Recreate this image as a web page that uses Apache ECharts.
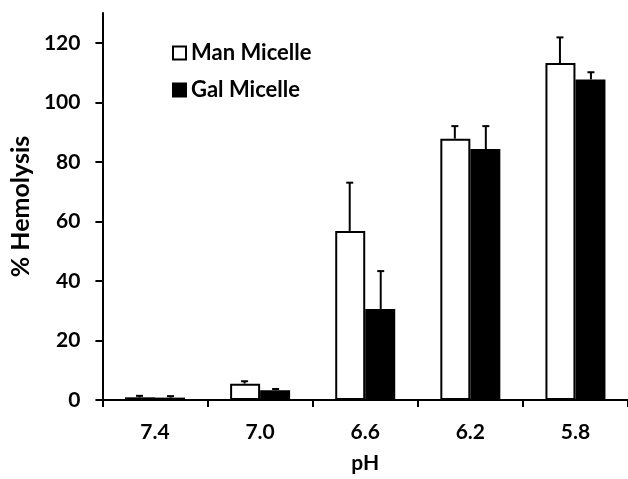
<!DOCTYPE html>
<html>
<head>
<meta charset="utf-8">
<script src="https://cdn.jsdelivr.net/npm/echarts@6/dist/echarts.min.js"></script>
<style>html,body{margin:0;padding:0;background:#fff}#c{width:628px;height:479px}</style>
</head>
<body>
<div id="c"></div>
<script>
const categories = ['7.4', '7.0', '6.6', '6.2', '5.8'];
const manValues = [0.9, 5.5, 56.8, 87.8, 113.2];
const manErrTop = [1.4, 6.3, 73.0, 92.0, 121.8];
const galValues = [0.8, 3.3, 30.6, 84.3, 107.7];
const galErrTop = [1.3, 3.7, 43.3, 92.0, 110.1];
const yTicks = [0, 20, 40, 60, 80, 100, 120];

const FONT = 'Lato';
const chart = echarts.init(document.getElementById('c'), null, {renderer: 'canvas'});

function errSeries(name, vals, tops, dir) {
  return {
    type: 'custom',
    name: name + ' err',
    z: 5,
    silent: true,
    data: vals.map((v, i) => [i, v, tops[i]]),
    renderItem: function (params, api) {
      const b = api.coord([api.value(0), api.value(1)]);
      const t = api.coord([api.value(0), api.value(2)]);
      const x = b[0] + dir * 15.5;
      const st = {stroke: '#000', lineWidth: 2};
      return {
        type: 'group',
        children: [
          {type: 'line', shape: {x1: x, y1: b[1], x2: x, y2: t[1]}, style: st},
          {type: 'line', shape: {x1: x - 3.5, y1: t[1], x2: x + 3.5, y2: t[1]}, style: st}
        ]
      };
    }
  };
}

chart.setOption({
  animation: false,
  backgroundColor: '#fff',
  grid: {left: 93, top: 13, width: 540, height: 393, containLabel: false},
  legend: {
    orient: 'vertical',
    left: 167,
    top: 37,
    itemWidth: 13,
    itemHeight: 13,
    itemGap: 15,
    icon: 'rect',
    data: ['Man Micelle', 'Gal Micelle'],
    textStyle: {fontFamily: FONT, fontWeight: 'bold', fontSize: 22, color: '#000'}
  },
  xAxis: {
    type: 'category',
    data: categories,
    name: 'pH',
    nameLocation: 'middle',
    nameGap: 53,
    nameTextStyle: {fontFamily: FONT, fontWeight: 'bold', fontSize: 21, color: '#000', verticalAlign: 'top'},
    axisLine: {lineStyle: {color: '#000', width: 2}},
    axisTick: {show: true, length: 7, lineStyle: {color: '#000', width: 2}, alignWithLabel: false},
    axisLabel: {fontFamily: FONT, fontWeight: 'bold', fontSize: 21, color: '#000', margin: 22},
    splitLine: {show: false}
  },
  yAxis: {
    type: 'value',
    min: 0,
    max: 130,
    interval: 20,
    name: '% Hemolysis',
    nameLocation: 'middle',
    nameRotate: 90,
    nameGap: 60,
    nameTextStyle: {fontFamily: FONT, fontWeight: 'bold', fontSize: 25, color: '#000'},
    axisLine: {show: true, lineStyle: {color: '#000', width: 2}},
    axisTick: {show: true, length: 7, lineStyle: {color: '#000', width: 2}, customValues: yTicks},
    axisLabel: {fontFamily: FONT, fontWeight: 'bold', fontSize: 21, color: '#000', margin: 22, customValues: yTicks},
    splitLine: {show: false}
  },
  series: [
    {
      name: 'Man Micelle', type: 'bar', data: manValues, barWidth: 30, barGap: '0%',
      itemStyle: {color: '#fff', borderColor: '#000', borderWidth: 2}
    },
    {
      name: 'Gal Micelle', type: 'bar', data: galValues, barWidth: 30, barGap: '0%',
      itemStyle: {color: '#000', borderColor: '#000', borderWidth: 2}
    },
    errSeries('Man Micelle', manValues, manErrTop, -1),
    errSeries('Gal Micelle', galValues, galErrTop, 1)
  ]
});
</script>
</body>
</html>
